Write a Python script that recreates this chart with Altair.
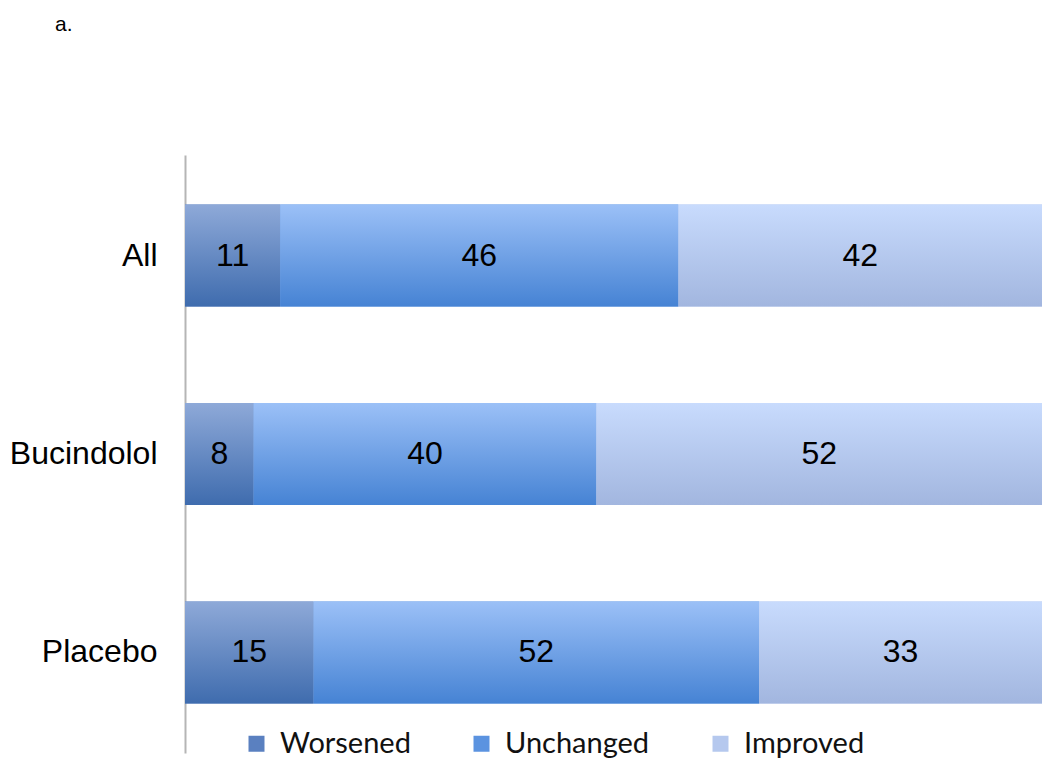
import altair as alt
import pandas as pd

groups = ["All", "Bucindolol", "Placebo"]
statuses = ["Worsened", "Unchanged", "Improved"]
worsened = [11, 8, 15]
unchanged = [46, 40, 52]
improved = [42, 52, 33]

rows = []
for i, g in enumerate(groups):
    for j, (s, vals) in enumerate(zip(statuses, [worsened, unchanged, improved])):
        rows.append({"group": g, "status": s, "order": j, "value": vals[i]})
df = pd.DataFrame(rows)

solid = ["#5a80c0", "#5b93e0", "#b5c8ee"]
grads = {
    "Worsened": ("#8ea9d8", "#3f6cae"),
    "Unchanged": ("#9bc0f7", "#4683d4"),
    "Improved": ("#c8dbfd", "#a2b6df"),
}

base = (
    alt.Chart(df)
    .transform_joinaggregate(total="sum(value)", groupby=["group"])
    .transform_calculate(pct="datum.value / datum.total")
    .transform_stack(stack="pct", groupby=["group"], as_=["x0", "x1"],
                     sort=[alt.SortField("order", order="ascending")])
)

yenc = alt.Y(
    "group:N",
    sort=groups,
    scale=alt.Scale(paddingInner=0.487, paddingOuter=0.25),
    axis=alt.Axis(title=None, ticks=False, domainColor="#b5b5b5", domainWidth=2,
                  labelFontSize=32, labelColor="black", labelPadding=28,
                  labelFont="Liberation Sans"),
)
xenc = alt.X("x0:Q", scale=alt.Scale(domain=[0, 1], nice=False, zero=True), axis=None)

legend_layer = base.mark_bar().encode(
    x=xenc, x2="x1:Q", y=yenc,
    color=alt.Color(
        "status:N", sort=statuses,
        scale=alt.Scale(domain=statuses, range=solid),
        legend=alt.Legend(
            title=None, orient="none", legendX=57, legendY=574,
            direction="horizontal", symbolType="square", symbolSize=256,
            symbolStrokeWidth=0, labelFontSize=29, labelFont="Lato",
            labelColor="#111111", columnPadding=56, labelOffset=9,
        ),
    ),
)

layers = [legend_layer]
for s in statuses:
    top, bottom = grads[s]
    layers.append(
        base.transform_filter(alt.datum.status == s)
        .mark_bar(
            color=alt.LinearGradient(
                gradient="linear",
                stops=[alt.GradientStop(color=top, offset=0),
                       alt.GradientStop(color=bottom, offset=1)],
                x1=0, x2=0, y1=0, y2=1,
            )
        )
        .encode(x=xenc, x2="x1:Q", y=yenc)
    )

text_layer = (
    base.transform_calculate(mid="(datum.x0 + datum.x1) / 2")
    .mark_text(fontSize=32, font="Liberation Sans", color="black")
    .encode(x=alt.X("mid:Q", scale=alt.Scale(domain=[0, 1], nice=False), axis=None),
            y=yenc, text="value:Q")
)
layers.append(text_layer)

chart = (
    alt.layer(*layers)
    .properties(
        width=857, height=598,
        autosize=alt.AutoSizeParams(type="none"),
        padding={"left": 177, "top": 147, "right": 0, "bottom": 24},
        title=alt.TitleParams("a.", anchor="start", frame="group", dx=-130, offset=120,
                              fontSize=21, font="Liberation Sans",
                              fontWeight="normal", color="black"),
    )
    .configure_view(stroke=None)
)

chart.save("out.html", embed_options={"renderer": "svg", "actions": False})
